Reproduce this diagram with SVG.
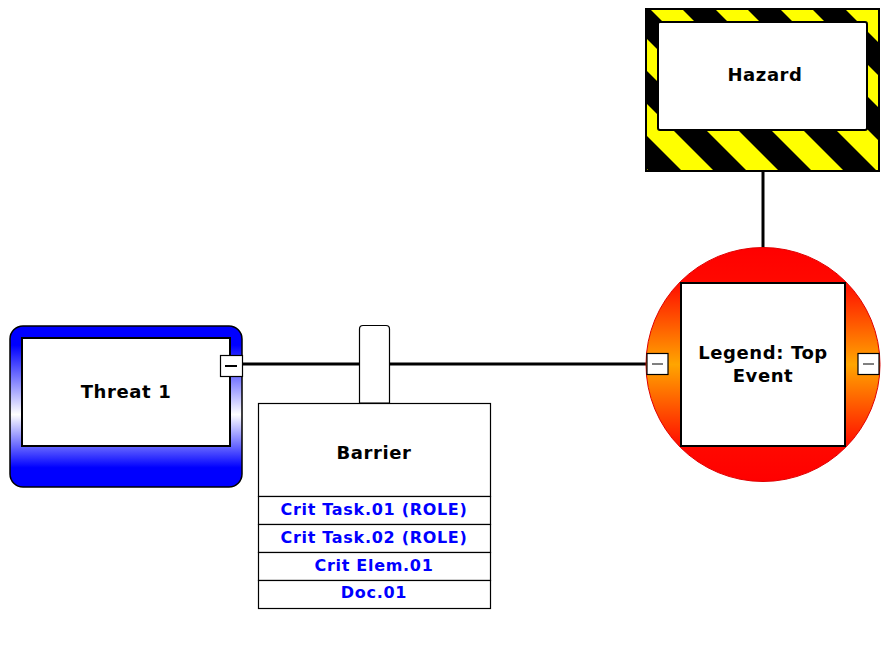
<svg xmlns="http://www.w3.org/2000/svg" width="888" height="659" viewBox="0 0 888 659">
<style>
.lbl{font-family:"DejaVu Sans",Verdana,sans-serif;font-weight:bold;font-size:18px;letter-spacing:0.6px;fill:#000;text-anchor:middle}
.row{font-family:"DejaVu Sans",Verdana,sans-serif;font-weight:bold;font-size:16px;letter-spacing:0.7px;fill:#0000FF;text-anchor:middle}
.box{fill:#fff;stroke:#000;stroke-width:2}
.cell{fill:#fff;stroke:#000;stroke-width:1.2}
.btn{fill:#fff;stroke:#000;stroke-width:1.2}
.conn{stroke:#000;stroke-width:3;fill:none}
</style>
<defs>
<pattern id="stripes" patternUnits="userSpaceOnUse" x="56" y="0" width="65" height="200" patternTransform="skewX(45)">
<rect x="0" y="0" width="65" height="200" fill="#000"/>
<rect x="0" y="0" width="32" height="200" fill="#FFFF00"/>
</pattern>
<linearGradient id="redGrad" x1="0" y1="0" x2="0" y2="1">
<stop offset="0" stop-color="#FF0000"/>
<stop offset="0.14" stop-color="#FF0800"/>
<stop offset="0.5" stop-color="#FFA500"/>
<stop offset="0.86" stop-color="#FF0800"/>
<stop offset="1" stop-color="#FF0000"/>
</linearGradient>
<linearGradient id="blueGrad" x1="0" y1="0" x2="0" y2="1">
<stop offset="0" stop-color="#0000FF"/>
<stop offset="0.12" stop-color="#0000FF"/>
<stop offset="0.55" stop-color="#FFFFFF"/>
<stop offset="0.88" stop-color="#0000FF"/>
<stop offset="1" stop-color="#0000FF"/>
</linearGradient>
</defs>

<g id="connectors">
<line class="conn" x1="243" y1="364" x2="647" y2="364"/>
<line class="conn" x1="763" y1="171" x2="763" y2="249"/>
</g>

<g id="hazard">
<rect x="646" y="9" width="233" height="162" fill="url(#stripes)" stroke="#000" stroke-width="2"/>
<rect x="658" y="22" width="209" height="108" rx="2" class="box"/>
<text class="lbl" x="765" y="81">Hazard</text>
</g>

<g id="top-event">
<circle cx="763" cy="364.5" r="117" fill="url(#redGrad)" stroke="#E00000" stroke-width="1"/>
<rect x="681" y="283" width="164" height="163" class="box"/>
<text class="lbl" x="763" y="359">Legend: Top</text>
<text class="lbl" x="763" y="382">Event</text>
<rect x="647" y="353.5" width="21" height="21" class="btn"/>
<line x1="652" y1="364" x2="663" y2="364" stroke="#000" stroke-width="1"/>
<rect x="858" y="353.5" width="21" height="21" class="btn"/>
<line x1="863" y1="364" x2="874" y2="364" stroke="#000" stroke-width="1"/>
</g>

<g id="threat1">
<rect x="10" y="326" width="232" height="161" rx="13" fill="url(#blueGrad)" stroke="#000" stroke-width="1.5"/>
<rect x="22" y="338" width="208" height="108" class="box"/>
<text class="lbl" x="126" y="398">Threat 1</text>
<rect x="220.5" y="355.5" width="22" height="21" class="btn"/>
<line x1="225" y1="366" x2="237" y2="366" stroke="#000" stroke-width="2"/>
</g>

<g id="barrier">
<path d="M359.5,403 V329 Q359.5,325.5 363,325.5 H386 Q389.5,325.5 389.5,329 V403 Z" fill="#fff" stroke="#000" stroke-width="1.2"/>
<rect x="258.5" y="403.5" width="232" height="93" class="cell"/>
<rect x="258.5" y="496.5" width="232" height="28" class="cell"/>
<rect x="258.5" y="524.5" width="232" height="28" class="cell"/>
<rect x="258.5" y="552.5" width="232" height="28" class="cell"/>
<rect x="258.5" y="580.5" width="232" height="28" class="cell"/>
<text class="lbl" x="374" y="459">Barrier</text>
<text class="row" x="374" y="515">Crit Task.01 (ROLE)</text>
<text class="row" x="374" y="543">Crit Task.02 (ROLE)</text>
<text class="row" x="374" y="571">Crit Elem.01</text>
<text class="row" x="374" y="598">Doc.01</text>
</g>
</svg>
